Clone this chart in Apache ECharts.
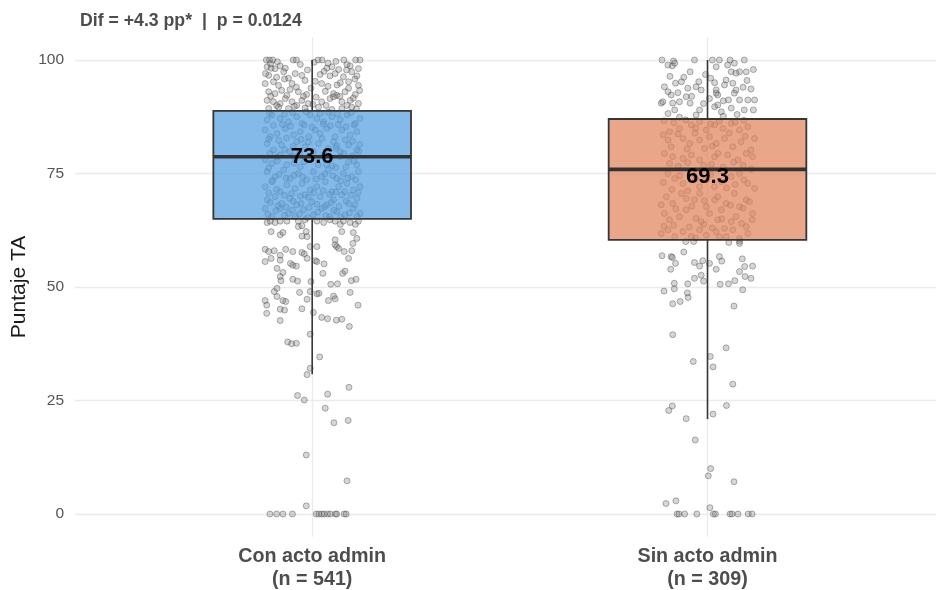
<!DOCTYPE html>
<html>
<head>
<meta charset="utf-8">
<script src="https://cdn.jsdelivr.net/npm/echarts/dist/echarts.min.js"></script>
<style>
  html, body { margin: 0; padding: 0; background: #ffffff; }
  #chart { width: 936px; height: 590px; }
</style>
</head>
<body>
<div id="chart"></div>
<script>
// Groups and summary statistics
const categories = ['Con acto admin', 'Sin acto admin'];
const groupSizes = [541, 309];
const means = [73.6, 69.3];
const whiskerLow = [30.8, 20.9];
const q1 = [65.0, 60.4];
const medians = [78.7, 75.9];
const q3 = [88.8, 87.0];
const whiskerHigh = [100, 100];
const yTicks = [0, 25, 50, 75, 100];
const pValue = '0.0124';

// Individual scores: [horizontal jitter, score]
const conPoints = [
  [-0.116,100],[-0.108,100],[-0.100,100],[-0.048,100],[-0.040,100],[0.015,100],[0.025,100],[0.080,100],[0.110,100],[0.121,100],
  [-0.105,99.2],[-0.088,99.6],[-0.030,99.0],[0.005,99.5],[0.040,99.3],[0.088,99.0],[0.060,99.7],
  [-0.114,98.5],[-0.104,98.2],[-0.094,98.1],[-0.081,98.7],[-0.068,98.2],[0.037,98.2],[0.050,98.5],[0.067,97.9],[0.096,98.7],[0.117,98.1],
  [-0.110,96.6],[-0.072,97.4],[-0.060,96.0],[-0.043,97.0],[-0.026,96.6],[0.020,96.8],[0.045,96.5],[0.058,97.0],[0.079,96.3],[0.100,97.4],[0.113,96.5],
  [-0.118,97.0],[-0.090,96.2],[-0.012,97.8],[0.030,97.5],[0.087,97.8],[0.108,95.8],
  [-0.119,94.8],[-0.098,95.2],[-0.085,94.4],[-0.051,94.8],[-0.018,95.5],[0.008,95.3],[0.024,94.8],[0.071,95.0],[0.092,95.2],[0.117,94.4],
  [-0.070,95.8],[-0.040,94.0],[-0.003,93.8],[0.040,94.2],[0.063,94.5],[0.092,93.8],
  [-0.110,93.0],[-0.094,92.6],[-0.077,93.3],[-0.064,92.2],[-0.035,93.0],[-0.014,92.4],[0.033,93.1],[0.054,92.6],[0.062,92.2],[0.083,93.0],[0.109,92.4],[0.120,93.3],
  [-0.105,92.0],[-0.056,93.5],[-0.022,92.0],[0.010,91.8],[0.070,92.0],[0.104,91.6],
  [-0.114,91.1],[-0.098,90.8],[-0.081,90.4],[-0.068,91.5],[-0.051,90.8],[-0.039,90.0],[-0.026,91.1],[-0.010,90.4],[0.024,90.8],[0.045,91.5],[0.054,91.9],[0.075,90.8],[0.096,91.1],[0.117,90.4],
  [-0.090,90.0],[-0.045,89.8],[0.002,90.2],[0.035,90.0],[0.088,90.0],[0.112,89.2],
  [-0.110,89.3],[-0.085,89.6],[-0.060,89.3],[-0.018,89.4],[0.016,89.6],[0.050,89.1],[0.075,89.3],[0.100,89.6],
  [-0.114,86.8],[-0.102,87.9],[-0.081,87.1],[-0.060,86.4],[-0.039,87.5],[-0.026,86.0],[-0.005,87.9],[0.012,87.1],[0.029,86.4],[0.050,87.5],[0.071,86.8],[0.088,87.9],[0.109,86.0],[0.121,87.1],
  [-0.119,84.6],[-0.106,83.1],[-0.089,83.8],[-0.068,84.9],[-0.047,83.5],[-0.030,84.2],[-0.009,83.1],[0.008,84.6],[0.020,83.8],[0.037,84.9],[0.058,83.1],[0.075,84.6],[0.096,83.5],[0.113,84.2],
  [-0.114,81.6],[-0.098,80.2],[-0.077,81.3],[-0.056,79.8],[-0.039,82.0],[-0.018,80.9],[0.003,79.8],[0.016,81.6],[0.041,80.5],[0.054,82.0],[0.071,79.8],[0.092,81.3],[0.113,80.2],
  [-0.119,78.0],[-0.102,77.2],[-0.081,79.1],[-0.064,76.9],[0.071,78.7],[0.092,77.6],[0.113,76.9],[-0.030,76.5],[0.050,76.7],
  [-0.114,75.4],[-0.094,74.3],[-0.072,75.8],[-0.056,73.9],[-0.035,75.0],[-0.014,73.6],[0.003,75.4],[0.024,74.3],[0.041,75.8],[0.062,73.9],[0.079,75.0],[0.100,74.3],[0.117,75.4],
  [-0.119,72.1],[-0.102,73.2],[-0.081,71.0],[-0.064,72.5],[-0.043,71.7],[-0.026,72.8],[-0.005,71.4],[0.012,72.1],[0.033,73.2],[0.050,71.0],[0.067,72.1],[0.088,72.8],[0.104,71.4],[0.121,72.1],
  [-0.114,69.2],[-0.094,69.9],[-0.077,68.4],[-0.056,69.5],[-0.039,68.1],[-0.018,70.3],[-0.001,68.8],[0.020,69.9],[0.037,68.1],[0.054,69.2],[0.075,70.3],[0.092,68.4],[0.113,69.5],
  [-0.119,67.3],[-0.102,65.5],[-0.081,67.3],[-0.060,66.2],[-0.043,65.5],[-0.022,67.0],[0.003,65.9],[0.024,67.3],[0.045,65.5],[0.062,66.6],[0.083,65.9],[0.104,67.3],[0.121,66.2],
  [-0.108,88.3],[-0.070,88.0],[-0.050,88.4],[-0.015,88.6],[0.020,88.2],[0.040,88.5],[0.064,88.1],[0.098,88.4],
  [-0.098,85.6],[-0.075,85.8],[-0.055,85.4],[-0.020,85.7],[0.000,85.2],[0.028,85.9],[0.046,85.5],[0.066,85.8],[0.086,85.3],[0.106,85.7],
  [-0.110,82.6],[-0.085,82.3],[-0.065,82.8],[-0.048,81.0],[-0.028,82.5],[-0.010,81.9],[0.025,82.7],[0.062,81.1],[0.084,82.4],[0.102,82.1],[0.120,81.4],
  [-0.107,79.4],[-0.090,78.6],[-0.070,80.3],[-0.048,78.8],[-0.032,79.6],[0.030,79.2],[0.060,80.6],[0.080,79.4],[0.102,78.9],[0.118,79.9],
  [-0.110,76.2],[-0.088,77.8],[-0.046,77.3],[-0.020,77.6],[0.015,76.9],[0.036,77.0],[0.060,76.3],[0.085,76.4],[0.106,77.8],
  [-0.100,73.5],[-0.084,74.8],[-0.066,74.0],[-0.046,74.6],[-0.024,74.2],[0.010,73.8],[0.032,74.9],[0.052,74.5],[0.072,73.4],[0.090,74.0],[0.110,73.6],
  [-0.110,70.7],[-0.090,71.5],[-0.070,70.2],[-0.052,70.6],[-0.030,70.0],[-0.010,69.8],[0.004,70.8],[0.028,71.2],[0.044,70.4],[0.060,70.9],[0.082,71.0],[0.098,70.2],[0.116,70.8],
  [-0.106,68.6],[-0.086,67.9],[-0.066,67.6],[-0.048,68.9],[-0.028,68.4],[-0.008,67.5],[0.012,68.2],[0.032,67.7],[0.048,68.6],[0.068,67.8],[0.086,68.9],[0.108,68.1],
  [-0.112,66.0],[-0.092,66.8],[-0.070,65.8],[-0.050,66.9],[-0.032,66.1],[-0.012,65.3],[0.014,66.5],[0.034,65.7],[0.055,66.9],[0.072,65.4],[0.094,66.3],[0.114,65.6],
  [-0.114,64.2],[-0.106,64.5],[-0.094,64.2],[-0.081,64.5],[-0.064,64.5],[-0.035,64.5],[-0.018,64.8],[0.012,64.5],[0.029,64.2],[0.045,64.8],[0.058,64.5],[0.079,64.5],[0.096,64.2],[0.117,64.5],[-0.035,63.3],[-0.026,63.5],[0.071,63.8],[0.109,63.8],
  [-0.104,62.2],[-0.081,61.5],[-0.074,62.0],[-0.015,62.2],[-0.026,61.2],[-0.013,61.1],[0.058,60.4],[0.075,62.2],[0.104,62.0],[0.113,60.7],[0.103,59.6],
  [-0.119,58.3],[-0.110,57.8],[-0.096,58.0],[-0.081,57.0],[-0.067,58.3],[-0.049,57.8],[-0.026,57.6],[-0.020,57.3],[-0.005,58.9],[0.012,58.9],[-0.013,56.3],[0.008,55.8],[0.012,55.6],[0.058,59.3],[0.062,58.9],[0.067,58.5],[0.081,57.8],[0.100,58.0],[0.092,56.3],
  [-0.119,55.6],[-0.104,56.3],[-0.081,55.9],[-0.089,54.1],[-0.074,53.2],[-0.055,55.2],[-0.049,54.8],[-0.040,54.6],[0.030,55.1],[0.027,53.0],[0.077,53.0],[0.083,53.5],
  [-0.081,52.3],[-0.079,51.4],[-0.049,51.7],[-0.037,51.3],[-0.003,51.2],[0.047,50.6],[0.064,50.7],[0.099,51.4],[0.111,51.7],
  [-0.096,49.0],[-0.089,49.7],[-0.032,48.8],[-0.005,49.0],[0.012,48.5],[0.017,48.6],[0.041,47.0],[0.054,48.0],[0.058,47.4],[0.096,48.8],
  [-0.119,47.0],[-0.115,46.0],[-0.089,47.9],[-0.074,47.0],[-0.067,46.8],[-0.081,45.1],[-0.070,44.9],[-0.026,45.2],[-0.013,47.3],[0.003,44.4],[0.116,46.0],
  [-0.115,44.2],[0.024,43.3],[0.039,43.0],[0.061,42.7],[0.075,42.9],[0.094,41.3],[-0.081,42.6],[-0.005,39.6],
  [-0.062,37.9],[-0.052,37.5],[-0.040,37.6],[0.019,34.6],[-0.005,32.1],[-0.013,30.7],
  [0.093,27.9],[0.039,26.4],[-0.037,26.1],[-0.020,25.1],[0.033,23.3],[0.055,20.1],[0.091,20.6],[-0.015,13.0],[0.088,7.3],[-0.015,1.8],
  [-0.107,0],[-0.090,0],[-0.074,0],[-0.050,0],[0.010,0],[0.017,0],[0.024,0],[0.030,0],[0.039,0],[0.046,0],[0.059,0],[0.062,0],[0.081,0],[0.086,0]
];

const sinPoints = [
  [-0.115,100],[-0.086,99.8],[-0.033,100],[0.012,100],[0.030,100],[0.057,100],[0.093,100],
  [-0.100,98.9],[-0.089,98.7],[-0.083,99.3],[-0.044,97.4],[0.022,98.5],[0.051,98.9],[0.060,97.4],[0.068,99.3],[0.081,97.4],[0.098,97.4],[0.116,97.9],
  [-0.081,94.9],[-0.066,95.2],[-0.022,95.2],[-0.029,94.1],[0.018,95.0],[0.022,93.4],[0.047,95.6],[0.043,94.5],[0.064,94.9],[0.072,97.1],
  [-0.109,94.1],[-0.100,93.0],[-0.092,92.3],[-0.050,93.8],[-0.054,91.9],[-0.016,93.4],[0.022,92.7],[0.026,92.3],[0.040,91.0],[0.053,91.2],[0.068,92.7],[0.072,93.4],[0.081,91.2],
  [-0.117,90.5],[-0.113,90.8],[-0.088,90.5],[-0.083,89.0],[-0.071,90.8],[-0.044,90.5],[-0.020,89.0],[-0.029,87.9],[0.018,89.7],[0.026,90.1],[0.035,88.6],[0.093,89.0],[0.102,91.2],[0.116,89.0],[0.119,91.2],[-0.071,87.4],
  [-0.060,96.2],[-0.005,96.8],[0.008,96.0],[0.100,95.5],[-0.095,96.4],[-0.040,92.0],[0.005,91.5],[0.090,94.0],[0.110,93.6],[-0.075,92.8],[-0.010,90.4],[0.060,89.4],[-0.100,88.2],[0.075,88.0],[0.040,87.6],
  [-0.096,84.2],[-0.071,84.9],[-0.041,85.7],[-0.020,86.4],[-0.003,84.6],[0.018,85.7],[0.039,84.9],[0.060,86.0],[0.081,84.6],[0.102,85.3],
  [-0.100,82.4],[-0.092,80.9],[-0.062,82.7],[-0.045,81.6],[-0.020,82.4],[0.005,83.1],[0.022,81.6],[0.043,82.7],[0.064,80.9],[0.085,82.0],[0.110,80.2],[0.119,82.7],
  [-0.109,79.4],[-0.088,78.7],[-0.062,78.3],[-0.041,79.1],[-0.020,78.0],[0.018,78.7],[0.026,79.4],[0.051,79.1],[0.077,78.0],[0.098,79.4],[0.114,78.7],
  [-0.100,75.0],[-0.083,73.9],[-0.062,72.8],[-0.041,75.0],[-0.020,72.1],[-0.003,73.6],[0.018,72.1],[0.035,73.2],[0.060,74.3],[0.081,75.0],[0.102,72.8],[0.119,71.7],
  [-0.117,68.1],[-0.104,69.9],[-0.088,68.4],[-0.066,70.6],[-0.054,69.5],[-0.033,69.2],[-0.020,70.6],[-0.003,67.7],[0.018,69.2],[0.026,69.9],[0.047,68.4],[0.068,70.6],[0.081,67.7],[0.098,69.2],[0.114,66.2],
  [-0.109,66.2],[-0.096,64.8],[-0.071,65.5],[-0.054,67.0],[-0.029,65.1],[-0.016,64.4],[0.005,66.2],[0.026,64.8],[0.043,62.9],[0.060,64.4],[0.072,65.5],[0.098,63.3],[0.113,64.8],
  [-0.117,61.8],[-0.100,62.6],[-0.083,61.1],[-0.062,62.2],[-0.041,61.1],[-0.020,62.6],[-0.003,61.4],[0.022,62.2],[0.047,61.1],[0.064,62.6],[0.081,60.7],[0.102,61.8],
  [-0.110,86.6],[-0.085,86.2],[-0.055,86.8],[-0.030,85.0],[0.008,85.9],[0.030,86.5],[0.070,86.3],[0.092,86.7],
  [-0.112,83.5],[-0.075,83.7],[-0.032,83.9],[0.012,81.0],[0.055,83.9],[0.095,83.2],[-0.008,80.5],[-0.052,80.4],
  [-0.096,77.2],[-0.074,76.6],[-0.050,77.4],[-0.010,76.8],[0.010,77.0],[0.040,76.4],[0.066,77.5],[0.090,76.8],[0.110,76.0],
  [-0.112,73.0],[-0.070,74.5],[-0.030,73.8],[0.008,74.8],[0.048,71.8],[0.070,72.6],[0.092,73.6],[-0.090,71.5],[-0.050,71.2],
  [-0.080,67.2],[-0.040,67.8],[-0.008,69.0],[0.035,67.0],[0.058,68.0],[0.090,67.4],[0.106,68.8],
  [-0.086,63.6],[-0.046,63.2],[-0.010,63.8],[0.012,63.0],[0.036,65.0],[0.086,64.0],[-0.110,63.4],[-0.030,60.8],[0.030,61.0],
  [-0.055,60.0],[-0.035,60.0],[0.054,59.8],[0.081,59.6],[0.081,60.1],
  [-0.115,56.9],[-0.092,56.7],[-0.089,56.5],[-0.081,55.2],[-0.060,57.7],[-0.093,53.9],[-0.033,55.4],[-0.020,54.6],[-0.012,55.8],[0.005,55.2],[0.022,53.9],[0.030,56.7],[0.036,55.7],[0.081,53.4],[0.088,56.2],[0.094,54.5],[0.114,54.6],
  [0.095,52.3],[0.110,51.9],[-0.016,52.6],[-0.033,51.9],[-0.010,51.3],[-0.084,50.8],[-0.084,49.6],[-0.110,49.1],[-0.050,50.7],[-0.051,48.7],[-0.049,47.7],[-0.069,46.8],[-0.088,46.3],
  [0.032,50.6],[0.053,50.7],[0.069,51.4],[0.089,49.4],[0.067,45.8],
  [-0.088,39.5],[0.047,36.6],[0.007,34.7],[-0.036,33.6],[0.014,32.4],[0.064,28.6],
  [-0.089,23.8],[-0.098,22.8],[0.048,23.9],[0.014,22.0],[-0.054,21.0],[-0.031,16.3],[0.008,10.0],[0.002,8.4],[0.067,7.1],[-0.080,2.9],[-0.105,2.3],[0.006,1.4],
  [-0.077,0],[-0.072,0],[-0.058,0],[-0.027,0],[0.015,0],[0.020,0],[0.057,0],[0.062,0],[0.077,0],[0.103,0],[0.113,0]
];

// ---- drawing ----
const FONT = "'Liberation Sans', Arial, Helvetica, sans-serif";
const BOX_HALF = 0.25;          // half box width, in category units
const LABEL_LIFT = 5;           // mean label sits a little above the mean
const boxFills = ['rgba(83,159,224,0.72)', 'rgba(226,131,92,0.72)'];
const edge = '#363636';

const boxData = categories.map((c, i) =>
  [i + 1, whiskerLow[i], q1[i], medians[i], q3[i], whiskerHigh[i], means[i]]);

const jittered = [conPoints, sinPoints].flatMap((pts, i) =>
  pts.map(([dx, y]) => [i + 1 + dx, y]));

const diff = (means[0] - means[1]).toFixed(1);
const titleText = `Dif = +${diff} pp*  |  p = ${pValue}`;

const chart = echarts.init(document.getElementById('chart'), null, { renderer: 'canvas' });

chart.setOption({
  animation: false,
  backgroundColor: '#ffffff',
  title: {
    text: titleText,
    left: 75,
    top: 7,
    textStyle: { fontFamily: FONT, fontSize: 17.7, fontWeight: 'bold', color: '#4d4d4d' }
  },
  grid: { left: 75, right: 0, top: 37.3, bottom: 53.3, containLabel: false, outerBoundsMode: 'none' },
  xAxis: {
    type: 'value',
    min: 0.4,
    max: 2.578,
    axisLine: { show: false },
    axisTick: { show: false, customValues: [1, 2] },
    axisLabel: {
      customValues: [1, 2],
      margin: 9,
      fontFamily: FONT,
      fontSize: 19.7,
      lineHeight: 22.5,
      fontWeight: 'bold',
      color: '#4d4d4d',
      formatter: v => {
        const i = Math.round(v) - 1;
        return `${categories[i]}\n(n = ${groupSizes[i]})`;
      }
    },
    splitLine: { show: true, lineStyle: { color: '#ebebeb', width: 1.3 } }
  },
  yAxis: {
    type: 'value',
    min: -5,
    max: 105,
    name: 'Puntaje TA',
    nameLocation: 'middle',
    nameGap: 45,
    nameMoveOverlap: false,
    nameTextStyle: { fontFamily: FONT, fontSize: 21, color: '#1a1a1a' },
    axisLine: { show: false },
    axisTick: { show: false, customValues: yTicks },
    axisLabel: {
      customValues: yTicks,
      margin: 11,
      fontFamily: FONT,
      fontSize: 15.5,
      color: '#555555'
    },
    splitLine: { show: true, lineStyle: { color: '#ebebeb', width: 1.3 } }
  },
  series: [
    {
      type: 'scatter',
      data: jittered,
      symbol: 'circle',
      symbolSize: 6,
      silent: true,
      z: 2,
      itemStyle: {
        color: 'rgba(120,120,120,0.38)',
        borderColor: 'rgba(60,60,60,0.55)',
        borderWidth: 0.9
      }
    },
    {
      type: 'custom',
      data: boxData,
      encode: { x: 0, y: [1, 2, 3, 4, 5] },
      silent: true,
      z: 3,
      renderItem: (params, api) => {
        const i = params.dataIndex;
        const x = api.value(0);
        const lo = api.coord([x, api.value(1)]);
        const b1 = api.coord([x, api.value(2)]);
        const b3 = api.coord([x, api.value(4)]);
        const hi = api.coord([x, api.value(5)]);
        const tl = api.coord([x - BOX_HALF, api.value(4)]);
        const br = api.coord([x + BOX_HALF, api.value(2)]);
        const ml = api.coord([x - BOX_HALF, api.value(3)]);
        const mr = api.coord([x + BOX_HALF, api.value(3)]);
        const lab = api.coord([x, api.value(6) + LABEL_LIFT]);
        return {
          type: 'group',
          children: [
            { type: 'line', shape: { x1: hi[0], y1: hi[1], x2: b3[0], y2: b3[1] },
              style: { stroke: edge, lineWidth: 1.6 } },
            { type: 'line', shape: { x1: lo[0], y1: lo[1], x2: b1[0], y2: b1[1] },
              style: { stroke: edge, lineWidth: 1.6 } },
            { type: 'rect', shape: { x: tl[0], y: tl[1], width: br[0] - tl[0], height: br[1] - tl[1] },
              style: { fill: boxFills[i], stroke: edge, lineWidth: 1.8 } },
            { type: 'line', shape: { x1: ml[0], y1: ml[1], x2: mr[0], y2: mr[1] },
              style: { stroke: '#333333', lineWidth: 3.6 } },
            { type: 'text', x: lab[0], y: lab[1],
              style: { text: api.value(6).toFixed(1), fill: '#000000', align: 'center', verticalAlign: 'middle',
                       fontFamily: FONT, fontSize: 22, fontWeight: 'bold' } }
          ]
        };
      }
    }
  ]
});
</script>
</body>
</html>
